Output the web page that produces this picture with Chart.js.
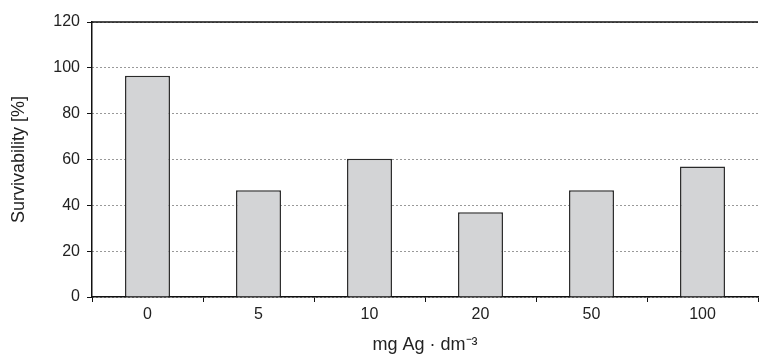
<!DOCTYPE html>
<html>
<head>
<meta charset="utf-8">
<script src="https://cdn.jsdelivr.net/npm/chart.js@4"></script>
<style>
html,body{margin:0;padding:0;background:#fff;}
#wrap{width:759px;height:356px;position:relative;}
</style>
</head>
<body>
<div id="wrap"><canvas id="c" width="759" height="356"></canvas></div>
<script>
const categories = ['0', '5', '10', '20', '50', '100'];
const survivability = [96.6, 46.6, 60.3, 37.0, 46.6, 56.9];
const yTicks = [0, 20, 40, 60, 80, 100, 120];
const xTitle = 'mg Ag \u00B7 dm\u207B\u00B3';
const yTitle = 'Survivability [%]';

const topLine = {
  id: 'topLine',
  afterDraw(chart) {
    const a = chart.chartArea, ctx = chart.ctx;
    ctx.save();
    ctx.strokeStyle = '#111';
    ctx.lineWidth = 1.5;
    ctx.beginPath();
    ctx.moveTo(a.left, a.top);
    ctx.lineTo(a.right, a.top);
    ctx.stroke();
    ctx.restore();
  }
};

const FONT = 'Liberation Sans, Arial, sans-serif';

new Chart(document.getElementById('c'), {
  type: 'bar',
  data: {
    labels: categories,
    datasets: [{
      data: survivability,
      backgroundColor: '#d3d4d6',
      borderColor: '#2a2a2a',
      borderWidth: 1.5,
      categoryPercentage: 1,
      barPercentage: 0.405
    }]
  },
  plugins: [topLine],
  options: {
    responsive: false,
    animation: false,
    devicePixelRatio: 1,
    layout: { padding: { top: 22, right: 1, left: 0, bottom: 0 } },
    plugins: { legend: { display: false }, tooltip: { enabled: false } },
    scales: {
      x: {
        offset: true,
        grid: { display: true, drawOnChartArea: false, offset: true, drawTicks: true, tickLength: 5, color: '#111', lineWidth: 1 },
        border: { display: true, color: '#111', width: 1.5 },
        ticks: { color: '#222', font: { family: FONT, size: 16 }, padding: 3, maxRotation: 0 },
        title: { display: true, text: xTitle, color: '#222', font: { family: FONT, size: 18 }, padding: { top: 0, bottom: 0 } },
        afterFit(s) { s.height = 59; }
      },
      y: {
        min: 0, max: 120,
        afterBuildTicks(s) { s.ticks = yTicks.map(v => ({ value: v })); },
        grid: { color: '#333', lineWidth: 1, drawTicks: true, tickLength: 5, tickColor: '#111', tickBorderDash: [] },
        border: { display: true, color: '#111', width: 1.5, dash: [1, 3] },
        ticks: { color: '#222', font: { family: FONT, size: 16 }, padding: 7 },
        title: { display: true, text: yTitle, color: '#222', font: { family: FONT, size: 18 }, padding: { top: 8, bottom: 0 } },
        afterFit(s) { s.width = 92; }
      }
    }
  }
});
</script>
</body>
</html>
